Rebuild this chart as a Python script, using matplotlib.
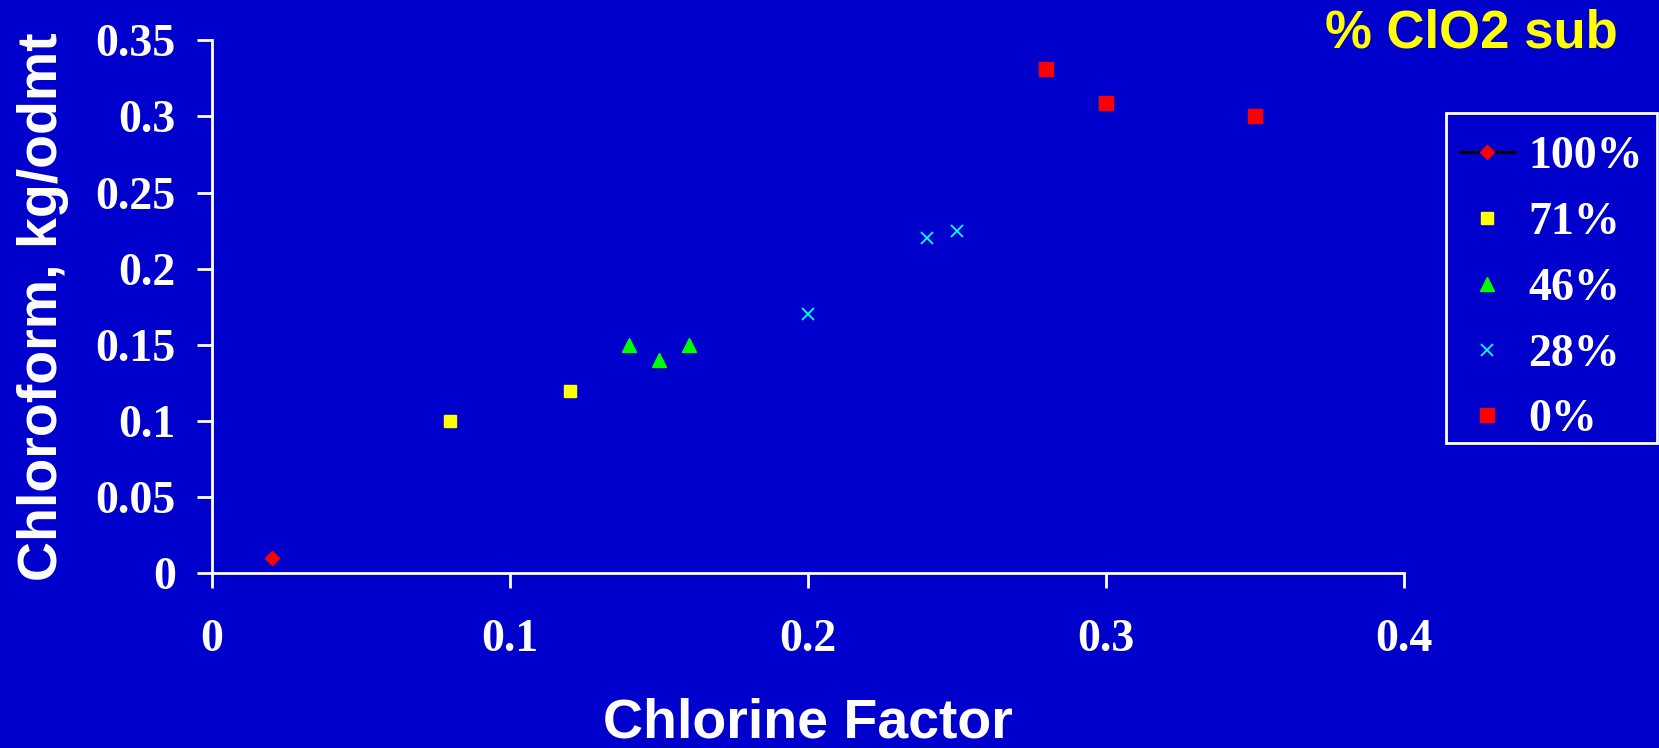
import matplotlib
matplotlib.use("Agg")
import matplotlib.pyplot as plt
from matplotlib.patches import Rectangle

BG = "#0000CC"
W, H = 1659, 748

# chlorine factor vs chloroform, by % ClO2 substitution
cf_100 = [0.02]
chl_100 = [0.01]
cf_71 = [0.08, 0.12]
chl_71 = [0.10, 0.12]
cf_46 = [0.14, 0.15, 0.16]
chl_46 = [0.15, 0.14, 0.15]
cf_28 = [0.20, 0.24, 0.25]
chl_28 = [0.17, 0.22, 0.225]
cf_0 = [0.28, 0.30, 0.35]
chl_0 = [0.331, 0.309, 0.30]

x_ticks = [0, 0.1, 0.2, 0.3, 0.4]
y_ticks = [0, 0.05, 0.1, 0.15, 0.2, 0.25, 0.3, 0.35]
x_labels = ["0", "0.1", "0.2", "0.3", "0.4"]
y_labels = ["0", "0.05", "0.1", "0.15", "0.2", "0.25", "0.3", "0.35"]

fig = plt.figure(figsize=(W / 100, H / 100), dpi=100, facecolor=BG)
ax = fig.add_axes([0.1278, 0.2333, 0.8463 - 0.1278, 0.9463 - 0.2333])
ax.set_facecolor(BG)

ax.plot(cf_100, chl_100, color="black", lw=2, marker="D", ms=7,
        mfc="#FF0000", mec="#FF0000", label="100%")
ax.plot(cf_71, chl_71, ls="none", marker="s", ms=8.5,
        mfc="#FFFF00", mec="#FFFF00", label="71%")
ax.plot(cf_46, chl_46, ls="none", marker="^", ms=10,
        mfc="#00FF00", mec="#00FF00", label="46%")
ax.plot(cf_28, chl_28, ls="none", marker="x", ms=9, mew=1.3,
        color="#00FFFF", label="28%")
ax.plot(cf_0, chl_0, ls="none", marker="s", ms=10,
        mfc="#FF0000", mec="#FF0000", label="0%")

ax.set_xlim(0, 0.4)
ax.set_ylim(0, 0.35)
ax.set_xticks(x_ticks)
ax.set_xticklabels(x_labels)
ax.set_yticks(y_ticks)
ax.set_yticklabels(y_labels)

for s in ["top", "right"]:
    ax.spines[s].set_visible(False)
for s in ["left", "bottom"]:
    ax.spines[s].set_color("white")
    ax.spines[s].set_linewidth(2)

ax.tick_params(axis="both", direction="out", length=11, width=2, colors="white")
ax.tick_params(axis="y", pad=15)
ax.tick_params(axis="x", pad=22)
for lab in ax.get_xticklabels() + ax.get_yticklabels():
    lab.set_fontfamily("Liberation Serif")
    lab.set_fontweight("bold")
    lab.set_fontsize(33)

ax.set_xlabel("Chlorine Factor", family="Liberation Sans", weight="bold",
              size=40, color="white", labelpad=26)
ax.set_ylabel("Chloroform, kg/odmt", family="Liberation Sans", weight="bold",
              size=40, color="white", labelpad=19)

fig.text(1325 / W, 1 - 47 / H, "% ClO2 sub", family="Liberation Sans",
         weight="bold", size=38, color="#FFFF00", ha="left", va="baseline")

# legend entries without frame; box drawn separately
leg = ax.legend(loc="upper left", bbox_to_anchor=(1446 / W, 1 - 122 / H),
                bbox_transform=fig.transFigure, borderaxespad=0, frameon=False,
                prop=dict(family="Liberation Serif", weight="bold", size=33),
                labelcolor="white", handlelength=1.2, labelspacing=0.52,
                handletextpad=0.3, borderpad=0.3)
fig.add_artist(Rectangle((1446 / W, 1 - 443 / H), (1657 - 1446) / W, (443 - 113) / H,
                         transform=fig.transFigure, fill=False, ec="white", lw=2))

fig.savefig("out.png", dpi=100, facecolor=BG)
